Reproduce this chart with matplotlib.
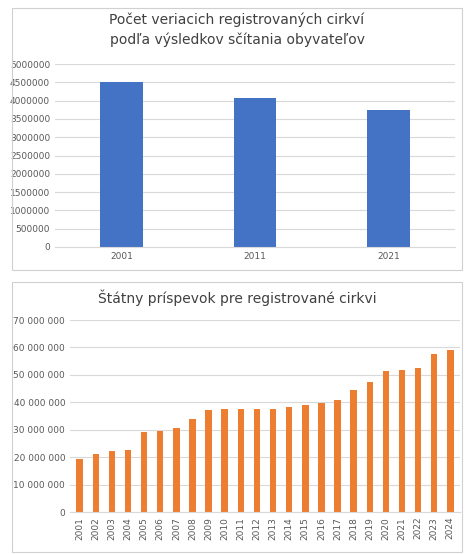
import matplotlib
matplotlib.use("Agg")
import matplotlib.pyplot as plt
from matplotlib.patches import Rectangle
from matplotlib.ticker import FuncFormatter

census_years = ["2001", "2011", "2021"]
believers = [4510000, 4070000, 3740000]

years = [str(y) for y in range(2001, 2025)]
subsidy = [19.3e6, 21.2e6, 22.3e6, 22.6e6, 29.1e6, 29.6e6, 30.6e6, 33.9e6,
           37.1e6, 37.4e6, 37.4e6, 37.4e6, 37.4e6, 38.4e6, 38.9e6, 39.9e6,
           40.9e6, 44.5e6, 47.5e6, 51.5e6, 51.7e6, 52.6e6, 57.5e6, 59.2e6]

W, H = 474, 554
fig = plt.figure(figsize=(W / 100, H / 100), dpi=100)
fig.patch.set_facecolor("white")
plt.rcParams["font.family"] = ["DejaVu Sans"]

# chart frames
for x0, y0, x1, y1 in [(12, 8, 462, 270), (12, 282, 462, 552)]:
    fig.add_artist(Rectangle((x0 / W, 1 - y1 / H), (x1 - x0) / W, (y1 - y0) / H,
                             transform=fig.transFigure, fill=False,
                             edgecolor="#d0d0d0", lw=0.8))

grid_c = "#d9d9d9"
tick_c = "#595959"

ax1 = fig.add_axes([55 / W, 1 - 247 / H, 400 / W, 183 / H])
ax1.bar(census_years, believers, width=0.32, color="#4472c4")
ax1.set_ylim(0, 5000000)
ax1.set_yticks(range(0, 5000001, 500000))
ax1.set_xlim(-0.5, 2.5)
ax1.yaxis.set_major_formatter(FuncFormatter(lambda v, p: f"{int(v)}"))
fig.text(237 / W, 1 - 30 / H,
         "Počet veriacich registrovaných cirkví\npodľa výsledkov sčítania obyvateľov",
         ha="center", va="center", fontsize=10, color="#404040", linespacing=1.5)

ax2 = fig.add_axes([70 / W, 1 - 512 / H, 390 / W, 192 / H])
ax2.bar(years, subsidy, width=0.4, color="#ed7d31")
ax2.set_ylim(0, 70e6)
ax2.set_yticks([i * 10e6 for i in range(8)])
ax2.set_xlim(-0.6, len(years) - 0.4)
ax2.yaxis.set_major_formatter(FuncFormatter(lambda v, p: f"{int(v):,}".replace(",", " ")))
fig.text(237 / W, 1 - 298 / H, "Štátny príspevok pre registrované cirkvi",
         ha="center", va="center", fontsize=10, color="#404040")

for ax in (ax1, ax2):
    ax.set_axisbelow(True)
    ax.grid(axis="y", color=grid_c, lw=0.8)
    for s in ("top", "right", "left"):
        ax.spines[s].set_visible(False)
    ax.spines["bottom"].set_color(grid_c)
    ax.tick_params(length=0, labelsize=6.5, colors=tick_c)
ax2.tick_params(axis="x", rotation=90, labelsize=6.5)

fig.savefig("out.png", dpi=100)
